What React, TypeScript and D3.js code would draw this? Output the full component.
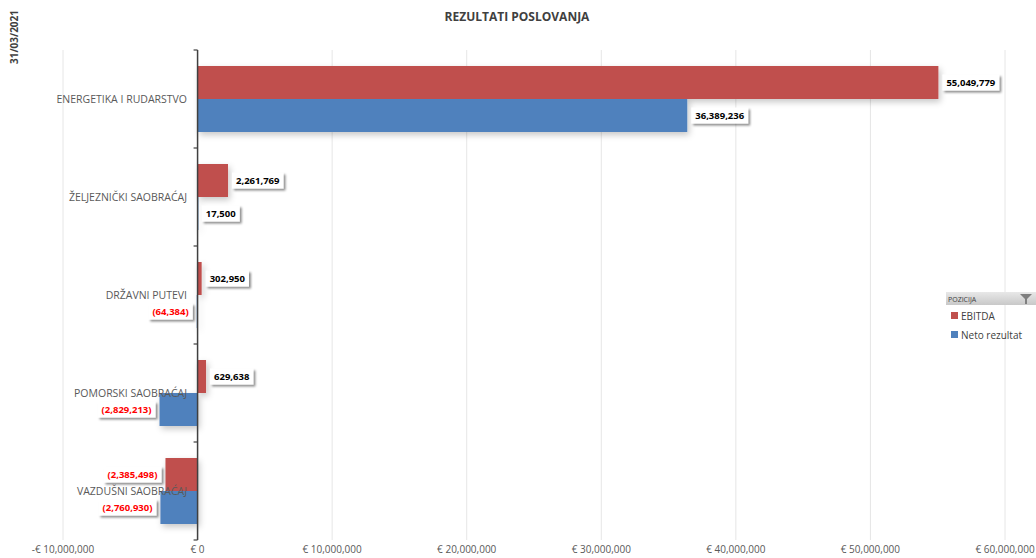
import React, { useEffect, useRef } from 'react'
import * as d3 from 'd3'

const categories = [
  'ENERGETIKA I RUDARSTVO',
  'ŽELJEZNIČKI SAOBRAĆAJ',
  'DRŽAVNI PUTEVI',
  'POMORSKI SAOBRAĆAJ',
  'VAZDUŠNI SAOBRAĆAJ'
]
const ebitda = [55049779, 2261769, 302950, 629638, -2385498]
const neto = [36389236, 17500, -64384, -2829213, -2760930]
const xTicks = [-10000000, 0, 10000000, 20000000, 30000000, 40000000, 50000000, 60000000]
const seriesNames = ['EBITDA', 'Neto rezultat']
const seriesColors = ['#C0504D', '#4F81BD']

const fmt = (v: number) => {
  const s = d3.format(',')(Math.abs(v))
  return v < 0 ? `(${s})` : s
}
const fmtAxis = (v: number) => {
  if (v === 0) return '€ 0'
  const s = d3.format(',')(Math.abs(v))
  return v < 0 ? `-€ ${s}` : `€ ${s}`
}

const App = () => {
  const chartRef = useRef<HTMLDivElement>(null)

  useEffect(() => {
    document.body.style.margin = '0'
    if (!chartRef.current) return
    const width = 1036
    const height = 558
    const plot = { left: 63, right: 1005, top: 50, bottom: 540 }
    const font = '"Open Sans", "Liberation Sans", sans-serif'

    d3.select(chartRef.current).selectAll('*').remove()
    const svg = d3.select(chartRef.current)
      .append('svg')
      .attr('width', width)
      .attr('height', height)
      .style('display', 'block')
      .style('background', '#fff')

    const defs = svg.append('defs')
    const f = defs.append('filter').attr('id', 'barShadow')
      .attr('x', '-20%').attr('y', '-20%').attr('width', '140%').attr('height', '160%')
    f.append('feDropShadow').attr('dx', 2).attr('dy', 3).attr('stdDeviation', 3)
      .attr('flood-color', '#000').attr('flood-opacity', 0.22)
    const lf = defs.append('filter').attr('id', 'labShadow')
      .attr('x', '-20%').attr('y', '-30%').attr('width', '140%').attr('height', '170%')
    lf.append('feDropShadow').attr('dx', 2).attr('dy', 2).attr('stdDeviation', 1)
      .attr('flood-color', '#000').attr('flood-opacity', 0.45)
    const g = defs.append('linearGradient').attr('id', 'legHead').attr('x1', 0).attr('y1', 0).attr('x2', 0).attr('y2', 1)
    g.append('stop').attr('offset', '0%').attr('stop-color', '#e8e8e8')
    g.append('stop').attr('offset', '100%').attr('stop-color', '#c8c8c8')

    const x = d3.scaleLinear().domain([-10000000, 60000000]).range([plot.left, plot.right])
    const y0 = d3.scaleBand().domain(categories).range([plot.top, plot.bottom]).paddingInner(0).paddingOuter(0)
    const y1 = d3.scaleBand().domain(seriesNames).range([0, y0.bandwidth()]).paddingInner(0).paddingOuter(0.485)

    // gridlines
    svg.append('g').selectAll('line').data(xTicks).enter().append('line')
      .attr('x1', d => x(d)).attr('x2', d => x(d))
      .attr('y1', plot.top).attr('y2', plot.bottom)
      .attr('stroke', '#e6e6e6').attr('stroke-width', 1)

    // axis tick labels
    svg.append('g').selectAll('text').data(xTicks).enter().append('text')
      .attr('x', d => x(d)).attr('y', 553)
      .attr('text-anchor', 'middle')
      .style('font-family', font).style('font-size', '10px').style('fill', '#595959')
      .text(d => fmtAxis(d))

    // bars
    const rows = categories.map((c, i) => ({ cat: c, vals: [ebitda[i], neto[i]] }))
    const barsG = svg.append('g').attr('filter', 'url(#barShadow)')
    rows.forEach(r => {
      r.vals.forEach((v, j) => {
        const yy = (y0(r.cat) as number) + (y1(seriesNames[j]) as number)
        barsG.append('rect')
          .attr('x', Math.min(x(0), x(v)))
          .attr('y', yy)
          .attr('width', Math.max(Math.abs(x(v) - x(0)), 0.8))
          .attr('height', y1.bandwidth())
          .attr('fill', seriesColors[j])
      })
    })

    // y axis
    const ax = svg.append('g')
    ax.append('line').attr('x1', x(0)).attr('x2', x(0)).attr('y1', plot.top).attr('y2', plot.bottom)
      .attr('stroke', '#404040').attr('stroke-width', 1.5)
    const tickYs = categories.map(c => y0(c) as number).concat([plot.bottom])
    ax.selectAll('line.tk').data(tickYs).enter().append('line')
      .attr('class', 'tk')
      .attr('x1', x(0) - 4).attr('x2', x(0))
      .attr('y1', d => d).attr('y2', d => d)
      .attr('stroke', '#404040').attr('stroke-width', 1.2)

    // category labels
    svg.append('g').selectAll('text').data(categories).enter().append('text')
      .attr('x', 187)
      .attr('y', d => (y0(d) as number) + y0.bandwidth() / 2)
      .attr('dy', '0.35em')
      .attr('text-anchor', 'end')
      .style('font-family', font).style('font-size', '10.5px').style('fill', '#595959')
      .text(d => d)

    // data labels
    const labG = svg.append('g')
    rows.forEach(r => {
      r.vals.forEach((v, j) => {
        const cy = (y0(r.cat) as number) + (y1(seriesNames[j]) as number) + y1.bandwidth() / 2
        const lg = labG.append('g')
        const t = lg.append('text')
          .attr('y', cy)
          .attr('dy', '0.35em')
          .style('font-family', font).style('font-size', '9.5px').style('font-weight', 'bold')
          .style('fill', v < 0 ? '#FF0000' : '#000')
          .text(fmt(v))
        const w = (t.node() as SVGTextElement).getComputedTextLength()
        const boxW = w + 8
        const boxX = v < 0 ? x(v) - 4 - boxW : x(v) + 4
        t.attr('x', boxX + 4)
        lg.insert('rect', 'text').attr('x', boxX).attr('y', cy - 8).attr('width', boxW).attr('height', 16)
          .attr('fill', '#fff').attr('filter', 'url(#labShadow)')
      })
    })

    // title
    svg.append('text')
      .attr('x', 517).attr('y', 21)
      .attr('text-anchor', 'middle')
      .style('font-family', font).style('font-size', '12px').style('font-weight', 'bold').style('fill', '#404040')
      .text('REZULTATI POSLOVANJA')

    // rotated date
    svg.append('text')
      .attr('transform', 'translate(18, 37) rotate(-90)')
      .attr('text-anchor', 'middle')
      .style('font-family', font).style('font-size', '10px').style('font-weight', 'bold').style('fill', '#404040')
      .text('31/03/2021')

    // legend
    const leg = svg.append('g').attr('transform', 'translate(946, 292)')
    leg.append('rect').attr('width', 90).attr('height', 13).attr('fill', 'url(#legHead)')
    leg.append('text').attr('x', 2).attr('y', 9.5)
      .style('font-family', font).style('font-size', '7px').style('fill', '#404040')
      .text('POZICIJA')
    leg.append('path').attr('d', 'M74,2 L86,2 L81,7 L81,12 L79,12 L79,7 Z').attr('fill', '#7f7f7f')
    seriesNames.forEach((s, i) => {
      const it = leg.append('g').attr('transform', `translate(5, ${24 + i * 19})`)
      it.append('rect').attr('x', 0).attr('y', -4).attr('width', 7).attr('height', 7).attr('fill', seriesColors[i])
      it.append('text').attr('x', 10).attr('y', 0).attr('dy', '0.35em')
        .style('font-family', font).style('font-size', '10px').style('fill', '#404040')
        .text(s)
    })
  }, [])

  return <div ref={chartRef} />
}

export default App
